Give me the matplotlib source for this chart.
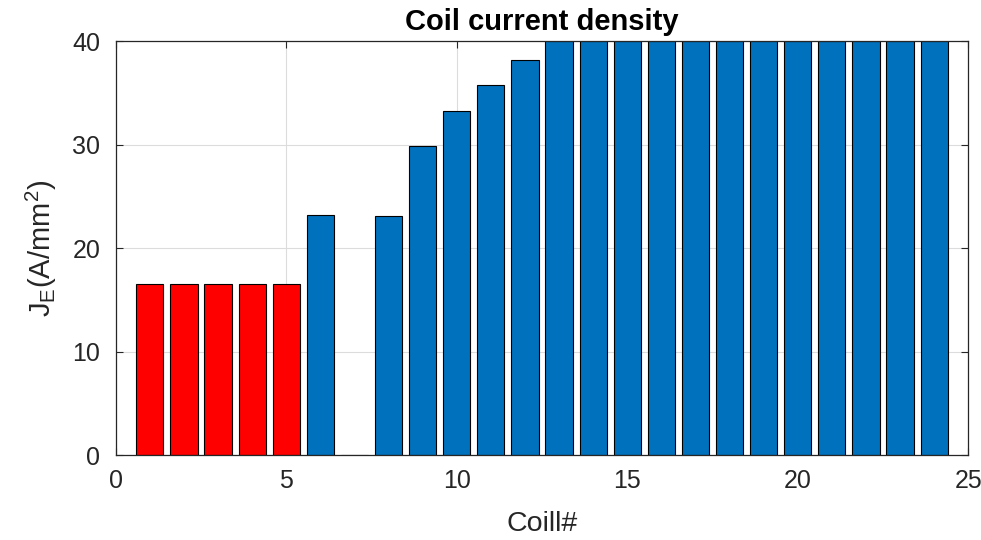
import matplotlib
matplotlib.use("Agg")
import matplotlib.pyplot as plt

plt.rcParams['font.family'] = ['Liberation Sans', 'DejaVu Sans']
plt.rcParams['mathtext.default'] = 'regular'

coils = list(range(1, 25))
values = [16.5, 16.5, 16.5, 16.5, 16.5, 23.2, 0, 23.1, 29.9, 33.2, 35.8, 38.2,
          40, 40, 40, 40, 40, 40, 40, 40, 40, 40, 40, 40]
red_coils = [1, 2, 3, 4, 5]
xticks = [0, 5, 10, 15, 20, 25]
yticks = [0, 10, 20, 30, 40]

blue = '#0072BD'
red = '#FF0000'
colors = [red if c in red_coils else blue for c in coils]

fig = plt.figure(figsize=(9.81, 5.4), dpi=100)
ax = fig.add_axes([0.118, 0.157, 0.869, 0.767])
ax.bar(coils, values, width=0.8, color=colors, edgecolor='black', linewidth=0.8, zorder=3)
ax.set_xlim(0, 25)
ax.set_ylim(0, 40)
ax.set_xticks(xticks)
ax.set_yticks(yticks)
ax.grid(True, color='#dcdcdc', linewidth=0.8, zorder=0)
ax.set_axisbelow(True)
ax.tick_params(direction='in', length=5, width=0.8, colors='#262626', labelsize=18,
               top=True, right=True, labeltop=False, labelright=False)
ax.tick_params(axis='y', pad=11)
ax.tick_params(axis='x', pad=10)
for s in ax.spines.values():
    s.set_color('#262626')
    s.set_linewidth(0.9)
    s.set_zorder(5)
ax.set_title('Coil current density', fontsize=21, fontweight='bold', pad=8)
ax.set_xlabel('Coill#', fontsize=20.5, color='#262626', labelpad=13)
ax.set_ylabel('J$_E$(A/mm$^2$)', fontsize=21, color='#262626', labelpad=10)
fig.savefig('out.png', dpi=100)
